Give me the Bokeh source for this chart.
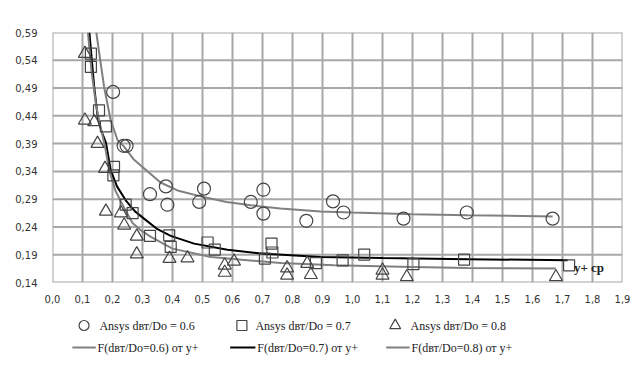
from bokeh.plotting import figure
from bokeh.layouts import column
from bokeh.models import Range1d, FixedTicker, Label
from bokeh.core.properties import value
from bokeh.embed import file_html
from bokeh.resources import INLINE

# ---------------- data ----------------
c06_x = [0.202, 0.237, 0.247, 0.325, 0.378, 0.383, 0.489, 0.505, 0.661, 0.703, 0.703, 0.846, 0.935, 0.970, 1.170, 1.381, 1.667]
c06_y = [0.483, 0.386, 0.386, 0.299, 0.313, 0.280, 0.285, 0.309, 0.285, 0.307, 0.264, 0.251, 0.286, 0.266, 0.255, 0.266, 0.255]

s07_x = [0.128, 0.128, 0.155, 0.178, 0.205, 0.203, 0.244, 0.267, 0.325, 0.389, 0.394, 0.517, 0.541, 0.708, 0.730, 0.733, 0.878, 0.967, 1.039, 1.203, 1.372, 1.722]
s07_y = [0.552, 0.528, 0.450, 0.421, 0.348, 0.333, 0.280, 0.265, 0.224, 0.225, 0.204, 0.212, 0.199, 0.183, 0.210, 0.194, 0.175, 0.180, 0.190, 0.173, 0.181, 0.171]

t08_x = [0.108, 0.108, 0.139, 0.150, 0.175, 0.178, 0.228, 0.239, 0.281, 0.281, 0.390, 0.450, 0.574, 0.574, 0.605, 0.782, 0.782, 0.849, 0.861, 1.100, 1.100, 1.181, 1.678]
t08_y = [0.552, 0.432, 0.429, 0.390, 0.345, 0.268, 0.265, 0.243, 0.223, 0.191, 0.183, 0.184, 0.171, 0.158, 0.178, 0.166, 0.153, 0.174, 0.154, 0.162, 0.153, 0.150, 0.150]

f06_x = [0.146, 0.172, 0.194, 0.217, 0.238, 0.270, 0.300, 0.360, 0.420, 0.494, 0.580, 0.661, 0.760, 0.894, 1.000, 1.200, 1.383, 1.667]
f06_y = [0.590, 0.492, 0.432, 0.396, 0.385, 0.362, 0.348, 0.320, 0.305, 0.295, 0.285, 0.279, 0.273, 0.268, 0.266, 0.263, 0.261, 0.259]

f07_x = [0.123, 0.139, 0.152, 0.165, 0.178, 0.194, 0.215, 0.244, 0.275, 0.305, 0.350, 0.394, 0.472, 0.583, 0.694, 0.894, 1.100, 1.383, 1.717]
f07_y = [0.590, 0.492, 0.432, 0.410, 0.392, 0.342, 0.313, 0.288, 0.268, 0.255, 0.236, 0.224, 0.210, 0.199, 0.192, 0.186, 0.184, 0.182, 0.180]

f08_x = [0.118, 0.130, 0.145, 0.160, 0.175, 0.189, 0.210, 0.239, 0.267, 0.294, 0.328, 0.400, 0.528, 0.761, 0.939, 1.200, 1.383, 1.678]
f08_y = [0.590, 0.520, 0.460, 0.420, 0.385, 0.342, 0.305, 0.274, 0.247, 0.234, 0.222, 0.201, 0.186, 0.175, 0.171, 0.168, 0.166, 0.165]

x_ticks = [0.0, 0.1, 0.2, 0.3, 0.4, 0.5, 0.6, 0.7, 0.8, 0.9, 1.0, 1.1, 1.2, 1.3, 1.4, 1.5, 1.6, 1.7, 1.8, 1.9]
x_tick_labels = ["0,0", "0,1", "0,2", "0,3", "0,4", "0,5", "0,6", "0,7", "0,8", "0,9",
                 "1,0", "1,1", "1,2", "1,3", "1,4", "1,5", "1,6", "1,7", "1,8", "1,9"]
y_ticks = [0.14, 0.19, 0.24, 0.29, 0.34, 0.39, 0.44, 0.49, 0.54, 0.59]
y_tick_labels = ["0,14", "0,19", "0,24", "0,29", "0,34", "0,39", "0,44", "0,49", "0,54", "0,59"]

legend_labels = ["Ansys dвт/Do = 0.6", "Ansys dвт/Do = 0.7", "Ansys dвт/Do = 0.8"]
fit_labels = ["F(dвт/Do=0.6) от y+", "F(dвт/Do=0.7) от y+", "F(dвт/Do=0.8) от y+"]

X_MIN, X_MAX = 0.0, 1.9
Y_MIN, Y_MAX = 0.14, 0.59

# ---------------- style ----------------
GRID = "#a8a8a8"
MARK = "#444444"
LINE_GRAY = "#808080"
SERIF = "Liberation Serif"

# ---------------- main chart ----------------
p = figure(frame_width=570, frame_height=250, output_backend="svg", toolbar_location=None,
           x_range=Range1d(X_MIN, X_MAX), y_range=Range1d(Y_MIN, Y_MAX),
           min_border_left=52, min_border_right=10, min_border_top=32, min_border_bottom=28)
p.outline_line_color = None
p.xgrid.visible = False
p.ygrid.visible = False

# grid drawn as line glyphs at the tick positions
grid_xs = [[t, t] for t in x_ticks] + [[X_MIN, X_MAX] for _ in y_ticks]
grid_ys = [[Y_MIN, Y_MAX] for _ in x_ticks] + [[t, t] for t in y_ticks]
p.multi_line(xs=grid_xs, ys=grid_ys, line_color=GRID, line_width=2)

p.xaxis.ticker = FixedTicker(ticks=x_ticks)
p.yaxis.ticker = FixedTicker(ticks=y_ticks)
p.xaxis.major_label_overrides = dict(zip(x_ticks, x_tick_labels))
p.yaxis.major_label_overrides = dict(zip(y_ticks, y_tick_labels))
for ax in (p.xaxis, p.yaxis):
    ax.axis_line_color = None
    ax.major_tick_out = 0
    ax.major_tick_in = 0
    ax.minor_tick_out = 0
    ax.minor_tick_in = 0
    ax.major_label_text_font = "DejaVu Sans"
    ax.major_label_text_font_size = "10px"
    ax.major_label_text_color = "#333333"
p.xaxis.major_label_standoff = 12
p.yaxis.major_label_standoff = 15

p.line(f06_x, f06_y, line_color=LINE_GRAY, line_width=2)
p.line(f07_x, f07_y, line_color="black", line_width=2)
p.line(f08_x, f08_y, line_color=LINE_GRAY, line_width=2)

p.scatter(c06_x, c06_y, marker="circle", size=13, fill_color=None, line_color=MARK, line_width=1.2)
p.scatter(s07_x, s07_y, marker="square", size=11, fill_color=None, line_color=MARK, line_width=1.2)
p.scatter(t08_x, t08_y, marker="triangle", size=13, fill_color=None, line_color=MARK, line_width=1.2)

p.add_layout(Label(x=0.0, y=0.59, y_offset=8, x_offset=1, text="ζк", text_font=SERIF,
                   text_font_style="bold", text_font_size="12px", text_color="#222222",
                   text_baseline="alphabetic"))
p.add_layout(Label(x=1.738, y=0.167, text="y+ cp", text_font=SERIF,
                   text_font_style="bold", text_font_size="13px", text_color="#222222",
                   text_baseline="middle"))

# ---------------- legend strip (screen-pixel layout) ----------------
LEG_W, LEG_H = 632, 56
q = figure(width=LEG_W, height=LEG_H, output_backend="svg", toolbar_location=None,
           x_range=Range1d(0, LEG_W), y_range=Range1d(LEG_H, 0),
           min_border=0, outline_line_color=None)
q.axis.visible = False
q.grid.visible = False

row1_y, row2_y = 15, 37
key_x = [35, 210, 380]
text1_x = [52, 225, 397]
line_x0 = [22, 197, 370]
line_x1 = [48, 225, 396]
text2_x = [50, 227, 398]

q.scatter([key_x[0]], [row1_y], marker="circle", size=10, fill_color=None, line_color=MARK, line_width=1.2)
q.scatter([key_x[1]], [row1_y], marker="square", size=10, fill_color=None, line_color=MARK, line_width=1.2)
q.scatter([key_x[2]], [row1_y], marker="triangle", size=11, fill_color=None, line_color=MARK, line_width=1.2)
q.text(text1_x, [row1_y] * 3, text=legend_labels, text_font=value(SERIF), text_font_size=value("12px"),
       text_color="#222222", text_baseline="middle")

q.segment(x0=line_x0, x1=line_x1, y0=[row2_y] * 3, y1=[row2_y] * 3,
          line_color=[LINE_GRAY, "black", LINE_GRAY], line_width=2)
q.text(text2_x, [row2_y] * 3, text=fit_labels, text_font=value(SERIF), text_font_size=value("12px"),
       text_color="#222222", text_baseline="middle")

layout = column(p, q, spacing=0)
open("out.html", "w").write(file_html(layout, INLINE))
